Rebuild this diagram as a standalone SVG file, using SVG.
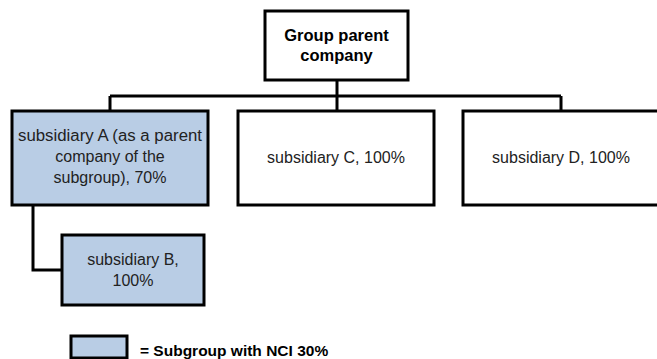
<svg xmlns="http://www.w3.org/2000/svg" width="657" height="359" viewBox="0 0 657 359">
<style>
.box{stroke:#000;stroke-width:3;fill:#fff}
.sub{fill:#b9cde5}
.t{font-family:"Liberation Sans",Arial,sans-serif;font-size:16px;fill:#222;text-anchor:middle}
.b{font-weight:bold;fill:#000}
.c{fill:none;stroke:#000;stroke-width:3}
</style>
<rect width="657" height="359" fill="#fff"/>
<g id="connectors">
<path class="c" d="M337 80V96M110 96H561M110 96V111M337 96V111M561 96V111"/>
<path class="c" d="M33 205V270H62"/>
</g>
<g id="parent">
<rect class="box" x="265" y="11" width="143" height="69"/>
<text class="t b" x="336.5" y="41" style="font-size:16.5px">Group parent</text>
<text class="t b" x="336.5" y="61" style="font-size:16.5px">company</text>
</g>
<g id="subA">
<rect class="box sub" x="12" y="111" width="196" height="94"/>
<text class="t" x="110" y="141" textLength="184" lengthAdjust="spacingAndGlyphs">subsidiary A (as a parent</text>
<text class="t" x="110" y="162">company of the</text>
<text class="t" x="110" y="183">subgroup), 70%</text>
</g>
<g id="subC">
<rect class="box" x="238" y="111" width="196" height="94"/>
<text class="t" x="336" y="163">subsidiary C, 100%</text>
</g>
<g id="subD">
<rect class="box" x="463" y="111" width="196" height="94"/>
<text class="t" x="561" y="163">subsidiary D, 100%</text>
</g>
<g id="subB">
<rect class="box sub" x="62" y="235" width="142" height="70"/>
<text class="t" x="133" y="265">subsidiary B,</text>
<text class="t" x="133" y="286">100%</text>
</g>
<g id="legend">
<rect class="box sub" x="71" y="336" width="56" height="22"/>
<text class="t b" x="140" y="356" style="text-anchor:start;font-size:15.5px">= Subgroup with NCI 30%</text>
</g>
</svg>
